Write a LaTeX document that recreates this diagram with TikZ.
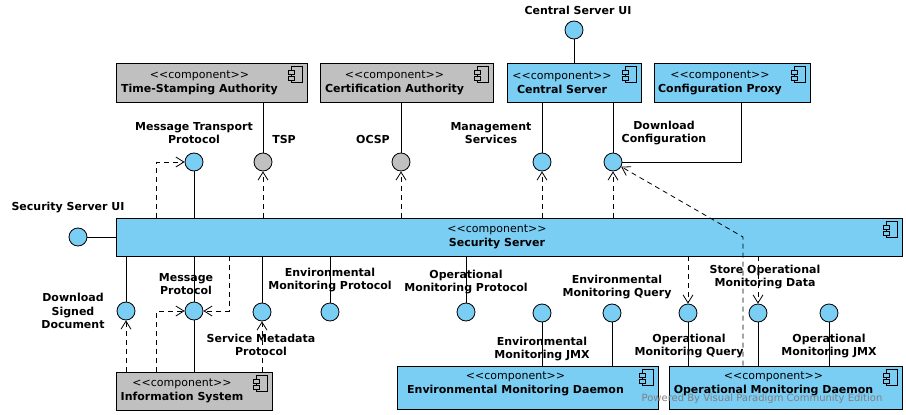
\documentclass[tikz,border=0pt]{standalone}
\usepackage{fontspec}
\setmainfont{DejaVu Sans}
\usetikzlibrary{arrows.meta}
\definecolor{compblue}{RGB}{122,206,244}
\definecolor{compgray}{RGB}{192,192,192}
\tikzstyle{comp} = [rectangle, draw=black, line width=0.9pt, fill=compblue, align=center, inner sep=0pt, font=\fontsize{11}{14}\selectfont]
\tikzstyle{extcomp} = [comp, fill=compgray]
\tikzstyle{iface} = [circle, draw=black, line width=0.8pt, fill=compblue, minimum size=18pt, inner sep=0pt]
\tikzstyle{extiface} = [iface, fill=compgray]
\tikzstyle{lbl} = [align=center, inner sep=0pt, font=\fontsize{11}{13.5}\selectfont\bfseries]
\tikzstyle{link} = [line width=0.8pt]
\tikzstyle{dep} = [line width=0.8pt, dash pattern=on 5pt off 4pt, -{Straight Barb[length=8pt,width=10pt]}]
% component icon in the top right corner of a box
\newcommand{\compicon}[2]{%
  \draw[line width=0.8pt] ([xshift=-16pt,yshift=-4pt]#1.north east) rectangle ([xshift=-5pt,yshift=-20pt]#1.north east);
  \draw[line width=0.8pt, fill=#2] ([xshift=-19pt,yshift=-8pt]#1.north east) rectangle ([xshift=-13pt,yshift=-12pt]#1.north east);
  \draw[line width=0.8pt, fill=#2] ([xshift=-19pt,yshift=-14pt]#1.north east) rectangle ([xshift=-13pt,yshift=-18pt]#1.north east);}
\newcommand{\stereo}[1]{<\kern0pt<component>\kern0pt>\hspace*{24pt}\\\textbf{#1}\hspace*{24pt}}

\begin{document}
\begin{tikzpicture}[x=1pt, y=-1pt]
\useasboundingbox (0,0) rectangle (906,415);

% Components
\node[extcomp, minimum width=191pt, minimum height=39pt] (tsa) at (211.5,82.5) {\stereo{Time-Stamping Authority}};
\node[extcomp, minimum width=173pt, minimum height=39pt] (ca) at (406.5,82.5) {\stereo{Certification Authority}};
\node[comp, minimum width=134pt, minimum height=39pt] (cs) at (574,82.5) {\stereo{Central Server}};
\node[comp, minimum width=156pt, minimum height=39pt] (cp) at (732,82.5) {\stereo{Configuration Proxy}};
\node[comp, minimum width=786pt, minimum height=38pt] (ss) at (509,237) {\stereo{Security Server}};
\node[extcomp, minimum width=156pt, minimum height=38pt] (is) at (194,391) {\stereo{Information System}};
\node[comp, minimum width=261pt, minimum height=43pt, text depth=10pt] (emd) at (527.5,387.5) {\stereo{Environmental Monitoring Daemon}};
\node[comp, minimum width=233pt, minimum height=43pt, text depth=10pt] (omd) at (785.5,387.5) {\stereo{Operational Monitoring Daemon}};
\compicon{tsa}{compgray}
\compicon{ca}{compgray}
\compicon{cs}{compblue}
\compicon{cp}{compblue}
\compicon{ss}{compblue}
\compicon{is}{compgray}
\compicon{emd}{compblue}
\compicon{omd}{compblue}

% Interfaces
\node[iface] (csui) at (574,30) {};
\node[iface] (mtp) at (194,162) {};
\node[extiface] (tsp) at (263,162) {};
\node[extiface] (ocsp) at (401,162) {};
\node[iface] (mgmt) at (542,162) {};
\node[iface] (dlconf) at (613,162) {};
\node[iface] (ssui) at (78,237) {};
\node[iface] (dsd) at (126,311) {};
\node[iface] (msgp) at (194,311) {};
\node[iface] (smp) at (262,312) {};
\node[iface] (emp) at (330,312) {};
\node[iface] (omp) at (466,312) {};
\node[iface] (emjmx) at (542,313) {};
\node[iface] (emq) at (612,313) {};
\node[iface] (omq) at (688,313) {};
\node[iface] (somd) at (758,313) {};
\node[iface] (omjmx) at (829,313) {};

% Labels
\node[lbl] (l-csui) at (578,10) {Central Server UI};
\node[lbl] (l-mtp) at (194,133) {Message Transport\\Protocol};
\node[lbl] (l-tsp) at (284,139) {TSP};
\node[lbl] (l-ocsp) at (373,139) {OCSP};
\node[lbl] (l-mgmt) at (491,133) {Management\\Services};
\node[lbl] (l-dlconf) at (664,133) {Download\\Configuration};
\node[lbl] (l-ssui) at (68,208) {Security Server UI};
\node[lbl] (l-dsd) at (73,311) {Download\\Signed\\Document};
\node[lbl] (l-msgp) at (186,284) {Message\\Protocol};
\node[lbl] (l-smp) at (261,345) {Service Metadata\\Protocol};
\node[lbl] (l-emp) at (330,280) {Environmental\\Monitoring Protocol};
\node[lbl] (l-omp) at (466,282) {Operational\\Monitoring Protocol};
\node[lbl] (l-emjmx) at (542,349) {Environmental\\Monitoring JMX};
\node[lbl] (l-emq) at (617,287) {Environmental\\Monitoring Query};
\node[lbl] (l-omq) at (689,346) {Operational\\Monitoring Query};
\node[lbl] (l-somd) at (765,277) {Store Operational\\Monitoring Data};
\node[lbl] (l-omjmx) at (829,346) {Operational\\Monitoring JMX};

% Connectors above the Security Server
\draw[link] (csui) -- (cs);
\draw[link] (mtp) -- (mtp |- ss.north);
\draw[dep] ([xshift=41pt]ss.north west) |- (mtp);
\draw[link] (tsa.south -| tsp) -- (tsp);
\draw[dep] (tsp |- ss.north) -- (tsp);
\draw[link] (ca.south -| ocsp) -- (ocsp);
\draw[dep] (ocsp |- ss.north) -- (ocsp);
\draw[link] (cs.south -| mgmt) -- (mgmt);
\draw[dep] (mgmt |- ss.north) -- (mgmt);
\draw[link] (cs.south -| dlconf) -- (dlconf);
\draw[link] ([xshift=88pt]cp.south west) |- (dlconf);
\draw[dep] (dlconf |- ss.north) -- (dlconf);
\coordinate (omdbend) at (743,237);
\draw[dep] (omdbend |- omd.north) -- (omdbend) -- (dlconf);
\draw[link] (ssui) -- (ss.west);

% Connectors below the Security Server
\draw[link] (ss.south -| dsd) -- (dsd);
\draw[dep] (is.north -| dsd) -- (dsd);
\draw[link] (ss.south -| msgp) -- (msgp);
\draw[link] (is.north -| msgp) -- (msgp);
\draw[dep] ([xshift=41pt]is.north west) |- (msgp);
\draw[dep] ([xshift=114pt]ss.south west) |- (msgp);
\draw[link] (ss.south -| smp) -- (smp);
\draw[dep] (is.north -| smp) -- (smp);
\draw[link] (ss.south -| emp) -- (emp);
\draw[link] (ss.south -| omp) -- (omp);
\draw[link] (emd.north -| emjmx) -- (emjmx);
\draw[link] (emd.north -| emq) -- (emq);
\draw[link] (omd.north -| omq) -- (omq);
\draw[dep] (ss.south -| omq) -- (omq);
\draw[link] (omd.north -| somd) -- (somd);
\draw[dep] (ss.south -| somd) -- (somd);
\draw[link] (omd.north -| omjmx) -- (omjmx);

\node[font=\fontsize{10}{12}\selectfont, text=gray] (wm) at (762,399) {Powered By Visual Paradigm Community Edition};
\end{tikzpicture}
\end{document}
